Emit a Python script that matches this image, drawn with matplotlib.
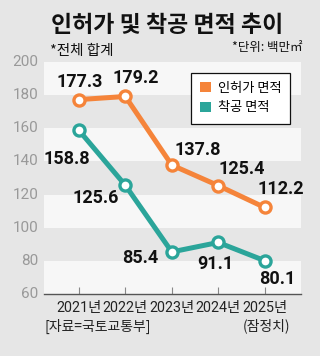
import matplotlib
matplotlib.use("Agg")
import matplotlib.pyplot as plt
from matplotlib.patches import Patch

years = ["2021년", "2022년", "2023년", "2024년", "2025년"]
permit = [177.3, 179.2, 137.8, 125.4, 112.2]
start = [158.8, 125.6, 85.4, 91.1, 80.1]
series_names = ["인허가 면적", "착공 면적"]
y_ticks = [60, 80, 100, 120, 140, 160, 180, 200]

ORANGE = "#F5843A"
TEAL = "#2BA59A"
BG = "#E6E6E6"
BAND = "#F7F7F7"

KR = ["Noto Sans CJK KR", "DejaVu Sans"]
NUM = ["Roboto", "Noto Sans CJK KR", "DejaVu Sans"]

fig = plt.figure(figsize=(3.2, 3.56), dpi=100, facecolor=BG)
ax = fig.add_axes([44/320, 1-294/356, (301-44)/320, (294-62)/356])
ax.set_facecolor(BG)

x = list(range(len(years)))
ax.set_xlim(-0.75, 4.78)
ax.set_ylim(60, 200)

# alternating bands
for lo in range(60, 200, 40):
    ax.axhspan(lo, lo + 20, color=BAND, lw=0, zorder=0)

ax.plot(x, permit, color=ORANGE, lw=3.6, marker="o", ms=8, mfc="white",
        mec=ORANGE, mew=2.4, zorder=3, solid_capstyle="round")
ax.plot(x, start, color=TEAL, lw=3.6, marker="o", ms=8, mfc="white",
        mec=TEAL, mew=2.4, zorder=3, solid_capstyle="round")

permit_off = [(1, 18), (10, 18), (26, 15), (23, 17), (16, 18)]
start_off = [(-12, -29), (-30, -13), (-32, -6), (-3, -22), (13, -18)]
for xi, v, (dx, dy) in zip(x, permit, permit_off):
    ax.annotate(f"{v:.1f}", (xi, v), xytext=(dx*0.72, dy*0.72), textcoords="offset points",
                ha="center", va="center", fontsize=13, fontweight="bold", family=NUM,
                color="#111111", zorder=5)
for xi, v, (dx, dy) in zip(x, start, start_off):
    ax.annotate(f"{v:.1f}", (xi, v), xytext=(dx*0.72, dy*0.72), textcoords="offset points",
                ha="center", va="center", fontsize=13, fontweight="bold", family=NUM,
                color="#111111", zorder=5)

ax.set_xticks(x)
ax.set_xticklabels(years, family=NUM, fontsize=10.3, color="#222222")
ax.set_yticks(y_ticks)
ax.set_yticklabels([str(t) for t in y_ticks], family=NUM, fontsize=11, color="#999999",
                   va="top")
for lbl in ax.get_yticklabels():
    lbl.set_verticalalignment("center")
ax.tick_params(axis="x", direction="in", length=5, color="#888888", pad=5)
ax.tick_params(axis="y", length=0, pad=4)
for s in ("left", "right", "top"):
    ax.spines[s].set_visible(False)
ax.spines["bottom"].set_color("#555555")
ax.spines["bottom"].set_linewidth(1)

handles = [Patch(facecolor=ORANGE, edgecolor="none"), Patch(facecolor=TEAL, edgecolor="none")]
leg = ax.legend(handles, series_names, loc="upper right", bbox_to_anchor=(297/320, 1-66/356),
                bbox_transform=fig.transFigure, prop={"family": KR, "size": 9.5},
                frameon=True, fancybox=False, edgecolor="#111111", framealpha=1,
                handlelength=0.8, handleheight=0.8, handletextpad=0.5, borderpad=0.7,
                labelspacing=0.5)
leg.get_frame().set_linewidth(0.9)
leg.set_zorder(10)

fig.text(167/320, 1-26/356, "인허가 및 착공 면적 추이", ha="center", va="center",
         family=KR, fontsize=16.5, fontweight="bold", color="#111111")
fig.text(50/320, 1-51/356, "*전체 합계", ha="left", va="center", family=KR,
         fontsize=10.5, color="#111111")
fig.text(302/320, 1-48/356, "*단위: 백만㎡", ha="right", va="center", family=KR,
         fontsize=9, color="#111111")
fig.text(44/320, 1-326/356, "[자료=국토교통부]", ha="left", va="center", family=KR,
         fontsize=10, color="#222222")
fig.text(267/320, 1-326/356, "(잠정치)", ha="center", va="center", family=KR,
         fontsize=10, color="#222222")

fig.savefig("out.png", dpi=100, facecolor=BG)
